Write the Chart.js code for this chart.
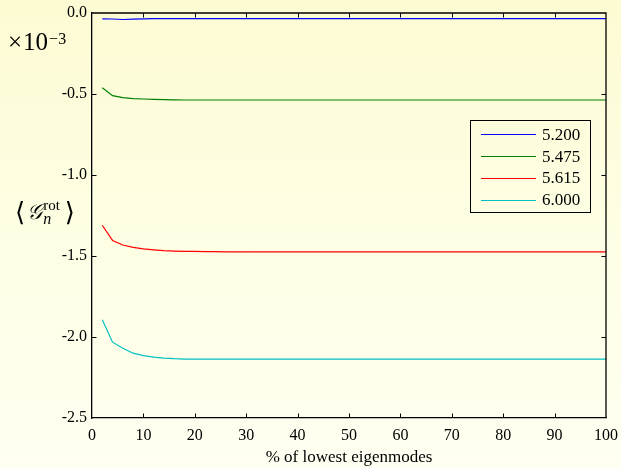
<!DOCTYPE html>
<html>
<head>
<meta charset="utf-8">
<script src="https://cdn.jsdelivr.net/npm/chart.js@4.4.1/dist/chart.umd.min.js"></script>
<style>
  html, body { margin: 0; padding: 0; }
  body {
    width: 621px; height: 468px; overflow: hidden;
    background: linear-gradient(to bottom, #fdfbd3 0%, #fefee4 50%, #fffff2 100%);
    font-family: "Liberation Serif", "DejaVu Serif", serif;
    color: #000;
  }
  #wrap { position: relative; width: 621px; height: 468px; }
  #expo { position: absolute; left: 8px; top: 28px; font-size: 25px; line-height: 28px; white-space: nowrap; }
  #expo .x { margin-right: 1px; }
  #expo sup { font-size: 16px; position: relative; top: -3px; vertical-align: top; margin-left: 1px; }
  #ytitle { position: absolute; left: 15px; top: 197px; display: flex; align-items: center; font-size: 17px; }
  #ytitle .br { font-family: "DejaVu Serif", serif; font-size: 26px; }
  #ytitle .G { font-family: "DejaVu Serif", serif; font-style: italic; font-size: 21px; margin-left: 2px; }
  #ytitle .ss { display: inline-flex; flex-direction: column; font-size: 15px; line-height: 13px; margin: 0 5px 0 1px; }
  #ytitle .ss i { font-style: italic; font-size: 16px; }
  #legend {
    position: absolute; left: 470px; top: 120px; width: 121px; height: 93px;
    border: 1px solid #000; box-sizing: border-box; padding-top: 3px;
  }
  #legend .row { display: flex; align-items: center; height: 21.8px; font-size: 17px; }
  #legend .ln { width: 55px; height: 0; border-top: 1.2px solid; margin: 0 6px 0 10px; }
</style>
</head>
<body>
<div id="wrap">
  <canvas id="chart" width="621" height="468"></canvas>
  <div id="expo"><span class="x">&times;</span>10<sup>&minus;3</sup></div>
  <div id="ytitle"><span class="br">&#x27E8;</span><span class="G">&#x1D4A2;</span><span class="ss"><span>rot</span><i>n</i></span><span class="br">&#x27E9;</span></div>
  <div id="legend"></div>
</div>
<script>
// % of lowest eigenmodes
const modes = [2, 4, 6, 8, 10, 12, 14, 16, 18, 20,
  22, 24, 26, 28, 30, 32, 34, 36, 38, 40,
  42, 44, 46, 48, 50, 52, 54, 56, 58, 60,
  62, 64, 66, 68, 70, 72, 74, 76, 78, 80,
  82, 84, 86, 88, 90, 92, 94, 96, 98, 100];

const seriesLabels = ["5.200", "5.475", "5.615", "6.000"];
const seriesColors = ["#0000ff", "#008000", "#ff0000", "#00bfbf"];

// values in units of 1e-3
const beta5200 = [-0.036, -0.037, -0.040, -0.038, -0.036, -0.035, -0.035, -0.035, -0.035, -0.035,
  -0.035, -0.035, -0.035, -0.035, -0.035, -0.035, -0.035, -0.035, -0.035, -0.035,
  -0.035, -0.035, -0.035, -0.035, -0.035, -0.035, -0.035, -0.035, -0.035, -0.035,
  -0.035, -0.035, -0.035, -0.035, -0.035, -0.035, -0.035, -0.035, -0.035, -0.035,
  -0.035, -0.035, -0.035, -0.035, -0.035, -0.035, -0.035, -0.035, -0.035, -0.035];
const beta5475 = [-0.462, -0.510, -0.522, -0.528, -0.531, -0.533, -0.535, -0.536, -0.537, -0.537,
  -0.537, -0.537, -0.537, -0.537, -0.537, -0.537, -0.537, -0.537, -0.537, -0.537,
  -0.537, -0.537, -0.537, -0.537, -0.537, -0.537, -0.537, -0.537, -0.537, -0.537,
  -0.537, -0.537, -0.537, -0.537, -0.537, -0.537, -0.537, -0.537, -0.537, -0.537,
  -0.537, -0.537, -0.537, -0.537, -0.537, -0.537, -0.537, -0.537, -0.537, -0.537];
const beta5615 = [-1.310, -1.404, -1.432, -1.447, -1.456, -1.462, -1.467, -1.470, -1.472, -1.472,
  -1.473, -1.473, -1.474, -1.474, -1.474, -1.474, -1.474, -1.474, -1.474, -1.474,
  -1.474, -1.474, -1.474, -1.474, -1.474, -1.474, -1.474, -1.474, -1.474, -1.474,
  -1.474, -1.474, -1.474, -1.474, -1.474, -1.474, -1.474, -1.474, -1.474, -1.474,
  -1.474, -1.474, -1.474, -1.474, -1.474, -1.474, -1.474, -1.474, -1.474, -1.474];
const beta6000 = [-1.894, -2.032, -2.070, -2.100, -2.115, -2.124, -2.130, -2.134, -2.136, -2.137,
  -2.137, -2.137, -2.136, -2.136, -2.136, -2.136, -2.136, -2.136, -2.136, -2.136,
  -2.136, -2.136, -2.136, -2.136, -2.136, -2.136, -2.136, -2.136, -2.136, -2.136,
  -2.136, -2.136, -2.136, -2.136, -2.136, -2.136, -2.136, -2.136, -2.136, -2.136,
  -2.136, -2.136, -2.136, -2.136, -2.136, -2.136, -2.136, -2.136, -2.136, -2.136];

const allSeries = [beta5200, beta5475, beta5615, beta6000];

Chart.defaults.font.family = "'Liberation Serif', 'DejaVu Serif', serif";
Chart.defaults.color = "#000";

// closed frame with inward ticks on all four sides
const framePlugin = {
  id: "frame",
  afterDraw(chart) {
    const ctx = chart.ctx;
    const a = chart.chartArea;
    const xs = chart.scales.x;
    const ys = chart.scales.y;
    const len = 4.5;
    ctx.save();
    ctx.strokeStyle = "#000";
    ctx.lineWidth = 1.3;
    ctx.beginPath();
    ctx.moveTo(a.left, a.top);
    ctx.lineTo(a.right, a.top);
    ctx.lineTo(a.right, a.bottom);
    ctx.stroke();
    ctx.lineWidth = 1;
    ctx.beginPath();
    xs.ticks.forEach(t => {
      if (t.value <= xs.min || t.value >= xs.max) return;
      const px = Math.round(xs.getPixelForValue(t.value)) + 0.5;
      ctx.moveTo(px, a.bottom); ctx.lineTo(px, a.bottom - len);
      ctx.moveTo(px, a.top); ctx.lineTo(px, a.top + len);
    });
    ys.ticks.forEach(t => {
      if (t.value <= ys.min || t.value >= ys.max) return;
      const py = Math.round(ys.getPixelForValue(t.value)) + 0.5;
      ctx.moveTo(a.left, py); ctx.lineTo(a.left + len, py);
      ctx.moveTo(a.right, py); ctx.lineTo(a.right - len, py);
    });
    ctx.stroke();
    ctx.restore();
  }
};

new Chart(document.getElementById("chart"), {
  type: "line",
  data: {
    labels: modes,
    datasets: allSeries.map((vals, i) => ({
      label: seriesLabels[i],
      data: vals.map((v, j) => ({ x: modes[j], y: v })),
      borderColor: seriesColors[i],
      borderWidth: 1.2,
      pointRadius: 0,
      tension: 0,
      fill: false
    }))
  },
  options: {
    responsive: false,
    animation: false,
    layout: { padding: { top: 13, right: 15, left: 0, bottom: 0 } },
    plugins: {
      legend: { display: false },
      tooltip: { enabled: false },
      title: { display: false }
    },
    scales: {
      x: {
        type: "linear",
        min: 0, max: 100,
        grid: { display: false, drawTicks: false, tickLength: 0 },
        border: { display: true, color: "#000", width: 1.3 },
        ticks: { stepSize: 10, padding: 8, font: { size: 16 }, color: "#000", maxRotation: 0 },
        title: { display: true, text: "% of lowest eigenmodes", font: { size: 17 }, color: "#000", padding: { top: 2, bottom: 0 } },
        afterFit: s => { s.height = 50; s.paddingLeft = 0; s.paddingRight = 0; }
      },
      y: {
        min: -2.5, max: 0,
        grid: { display: false, drawTicks: false, tickLength: 0 },
        border: { display: true, color: "#000", width: 1.3 },
        ticks: { stepSize: 0.5, padding: 5, font: { size: 16 }, color: "#000", callback: v => v.toFixed(1) },
        afterFit: s => { s.width = 92; s.paddingTop = 0; s.paddingBottom = 0; }
      }
    }
  },
  plugins: [framePlugin]
});

// legend inside the plot
const legend = document.getElementById("legend");
seriesLabels.forEach((lab, i) => {
  const row = document.createElement("div");
  row.className = "row";
  row.innerHTML = `<span class="ln" style="border-color:${seriesColors[i]}"></span><span>${lab}</span>`;
  legend.appendChild(row);
});
</script>
</body>
</html>
